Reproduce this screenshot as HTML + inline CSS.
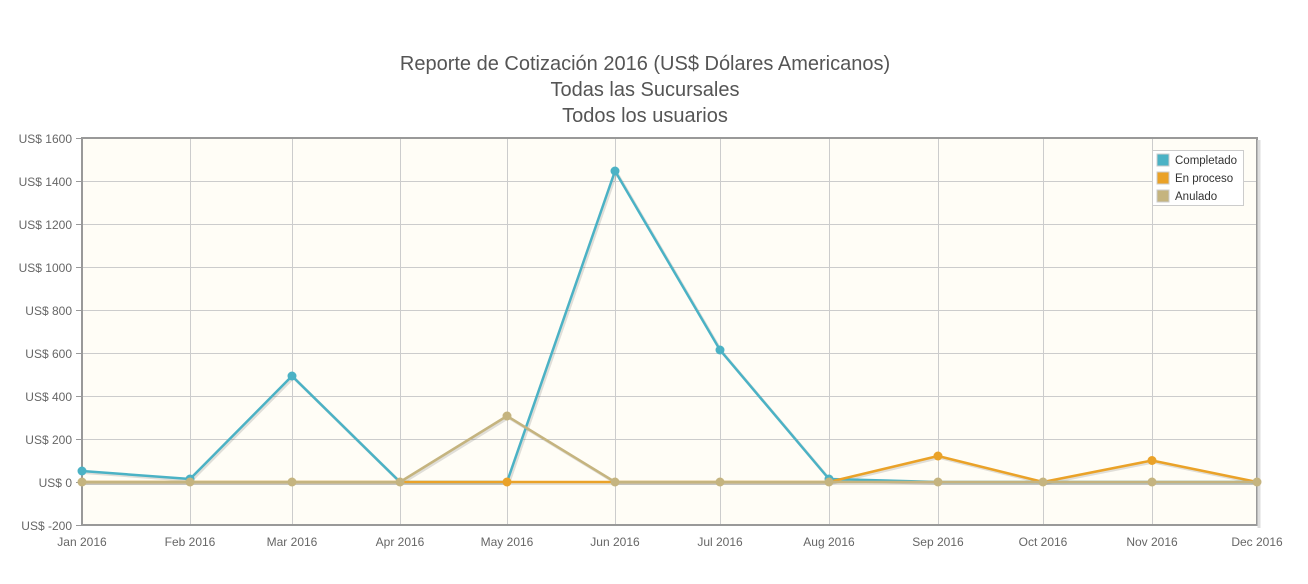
<!DOCTYPE html><html><head><style>body{margin:0;background:#fff;}svg{display:block}text{font-family:"Liberation Sans","DejaVu Sans",sans-serif}</style></head><body>
<svg width="1308" height="584" xmlns="http://www.w3.org/2000/svg">
<g fill="#555" font-size="20" text-anchor="middle"><text x="645" y="70">Reporte de Cotización 2016 (US$ Dólares Americanos)</text><text x="645" y="96">Todas las Sucursales</text><text x="645" y="122">Todos los usuarios</text></g>
<rect x="83" y="139" width="1174" height="386" fill="#fffdf6"/>
<g stroke="#ccc" stroke-width="1">
<line x1="82" x2="1257" y1="181.5" y2="181.5"/><line x1="82" x2="1257" y1="224.5" y2="224.5"/><line x1="82" x2="1257" y1="267.5" y2="267.5"/><line x1="82" x2="1257" y1="310.5" y2="310.5"/><line x1="82" x2="1257" y1="353.5" y2="353.5"/><line x1="82" x2="1257" y1="396.5" y2="396.5"/><line x1="82" x2="1257" y1="439.5" y2="439.5"/><line x1="82" x2="1257" y1="482.5" y2="482.5"/>
<line x1="190.5" x2="190.5" y1="138" y2="525"/><line x1="292.5" x2="292.5" y1="138" y2="525"/><line x1="400.5" x2="400.5" y1="138" y2="525"/><line x1="507.5" x2="507.5" y1="138" y2="525"/><line x1="615.5" x2="615.5" y1="138" y2="525"/><line x1="720.5" x2="720.5" y1="138" y2="525"/><line x1="829.5" x2="829.5" y1="138" y2="525"/><line x1="938.5" x2="938.5" y1="138" y2="525"/><line x1="1043.5" x2="1043.5" y1="138" y2="525"/><line x1="1152.5" x2="1152.5" y1="138" y2="525"/>
</g>
<rect x="82" y="138" width="1175" height="387" fill="none" stroke="#999" stroke-width="2"/>
<line x1="1259" y1="140" x2="1259" y2="528" stroke="#ddd" stroke-width="3"/>
<g stroke="#999" stroke-width="1"><line x1="76" x2="82" y1="138.5" y2="138.5"/><line x1="76" x2="82" y1="181.5" y2="181.5"/><line x1="76" x2="82" y1="224.5" y2="224.5"/><line x1="76" x2="82" y1="267.5" y2="267.5"/><line x1="76" x2="82" y1="310.5" y2="310.5"/><line x1="76" x2="82" y1="353.5" y2="353.5"/><line x1="76" x2="82" y1="396.5" y2="396.5"/><line x1="76" x2="82" y1="439.5" y2="439.5"/><line x1="76" x2="82" y1="482.5" y2="482.5"/><line x1="76" x2="82" y1="525.5" y2="525.5"/></g>
<g fill="#666" font-size="12" text-anchor="end"><text x="72" y="143">US$ 1600</text><text x="72" y="186">US$ 1400</text><text x="72" y="229">US$ 1200</text><text x="72" y="272">US$ 1000</text><text x="72" y="315">US$ 800</text><text x="72" y="358">US$ 600</text><text x="72" y="401">US$ 400</text><text x="72" y="444">US$ 200</text><text x="72" y="487">US$ 0</text><text x="72" y="530">US$ -200</text></g>
<g fill="#666" font-size="12" text-anchor="middle"><text x="82" y="546">Jan 2016</text><text x="190" y="546">Feb 2016</text><text x="292" y="546">Mar 2016</text><text x="400" y="546">Apr 2016</text><text x="507" y="546">May 2016</text><text x="615" y="546">Jun 2016</text><text x="720" y="546">Jul 2016</text><text x="829" y="546">Aug 2016</text><text x="938" y="546">Sep 2016</text><text x="1043" y="546">Oct 2016</text><text x="1152" y="546">Nov 2016</text><text x="1257" y="546">Dec 2016</text></g>
<g fill="none" stroke-width="3" stroke-linejoin="round">
<g stroke="rgba(0,0,0,0.12)" transform="translate(1.5,1.5)">
<polyline points="82,471 190,479 292,376 400,482 507,482 615,171 720,350 829,479 938,482 1043,482 1152,482 1257,482"/>
<polyline points="82,482 190,482 292,482 400,482 507,482 615,482 720,482 829,482 938,456 1043,482 1152,460.5 1257,482"/>
<polyline points="82,482 190,482 292,482 400,482 507,416 615,482 720,482 829,482 938,482 1043,482 1152,482 1257,482"/>
</g>
<polyline stroke="#4bb2c5" stroke-width="2.5" points="82,471 190,479 292,376 400,482 507,482 615,171 720,350 829,479 938,482 1043,482 1152,482 1257,482"/>
<polyline stroke="#EAA228" stroke-width="2.5" points="82,482 190,482 292,482 400,482 507,482 615,482 720,482 829,482 938,456 1043,482 1152,460.5 1257,482"/>
<polyline stroke="#c5b47f" stroke-width="2.5" points="82,482 190,482 292,482 400,482 507,416 615,482 720,482 829,482 938,482 1043,482 1152,482 1257,482"/>
</g>
<g fill="#4bb2c5"><circle cx="82" cy="471" r="4.5"/><circle cx="190" cy="479" r="4.5"/><circle cx="292" cy="376" r="4.5"/><circle cx="615" cy="171" r="4.5"/><circle cx="720" cy="350" r="4.5"/><circle cx="829" cy="479" r="4.5"/></g>
<g fill="#EAA228"><circle cx="507" cy="482" r="4.5"/><circle cx="938" cy="456" r="4.5"/><circle cx="1152" cy="460.5" r="4.5"/></g>
<g fill="#c5b47f"><circle cx="82" cy="482" r="4.5"/><circle cx="190" cy="482" r="4.5"/><circle cx="292" cy="482" r="4.5"/><circle cx="400" cy="482" r="4.5"/><circle cx="507" cy="416" r="4.5"/><circle cx="615" cy="482" r="4.5"/><circle cx="720" cy="482" r="4.5"/><circle cx="829" cy="482" r="4.5"/><circle cx="938" cy="482" r="4.5"/><circle cx="1043" cy="482" r="4.5"/><circle cx="1152" cy="482" r="4.5"/><circle cx="1257" cy="482" r="4.5"/></g>
<rect x="1152.5" y="150.5" width="91" height="55" fill="#fff" stroke="#ccc"/>
<rect x="1157" y="154" width="12" height="12" fill="#4bb2c5" stroke="#ccc"/>
<rect x="1157" y="172" width="12" height="12" fill="#EAA228" stroke="#ccc"/>
<rect x="1157" y="190" width="12" height="12" fill="#c5b47f" stroke="#ccc"/>
<g fill="#333" font-size="11.5"><text x="1175" y="164">Completado</text><text x="1175" y="182">En proceso</text><text x="1175" y="200">Anulado</text></g>
</svg></body></html>
